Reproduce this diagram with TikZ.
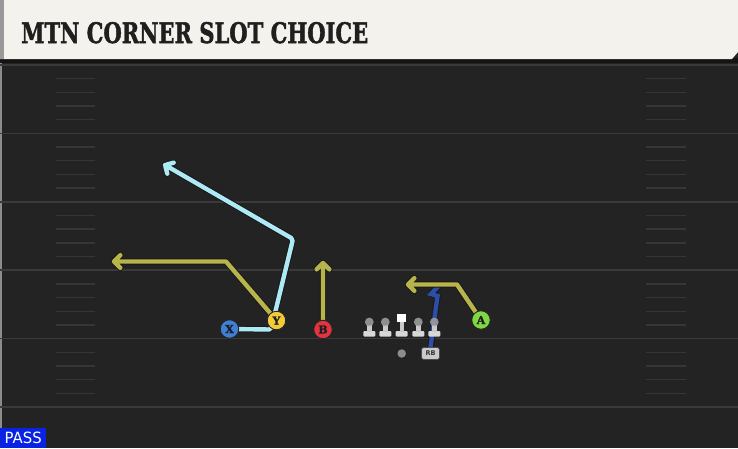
\documentclass[tikz,border=0pt]{standalone}
\usepackage{fontspec}
\setmainfont{DejaVu Sans}
\newfontfamily\slabfont{DejaVu Serif}
\newfontfamily\heavyslab{DejaVu Serif Bold}[FakeBold=1.8]
\usetikzlibrary{calc}
\pgfdeclarelayer{bg}
\pgfdeclarelayer{rt}
\pgfsetlayers{bg,rt,main}
\definecolor{cream}{HTML}{F4F2EC}
\definecolor{fieldbg}{HTML}{232323}
\definecolor{yardline}{HTML}{3A3A3A}
\definecolor{hashc}{HTML}{363636}
\definecolor{lblue}{HTML}{AEEAF6}
\definecolor{olive}{HTML}{B6B44A}
\definecolor{rbblue}{HTML}{2D4EA6}
\definecolor{xblue}{HTML}{3F7FD8}
\definecolor{yyellow}{HTML}{F3CA38}
\definecolor{bred}{HTML}{E1343F}
\definecolor{agreen}{HTML}{7FD843}
\definecolor{passblue}{HTML}{0A22E4}
\definecolor{lmbase}{HTML}{D8D8D8}
\definecolor{lmbody}{HTML}{CACACA}
\definecolor{lmhead}{HTML}{A2A2A2}
\tikzset{
  route/.style={line width=4.4pt, draw=#1, line join=round, line cap=round,
    preaction={draw=black!90, line width=6.4pt, line join=round, line cap=round}},
  player/.style={circle, draw=black!85, line width=0.9pt, minimum size=18.5pt, inner sep=0pt,
    font=\heavyslab\fontsize{11}{11}\selectfont, text=black!88},
  lineman/.pic={
    \fill[lmbase, rounded corners=1pt] (-6,9) rectangle (6,14.5);
    \fill[lmbody] (-2.2,3) rectangle (2.2,10);
    \fill[lmhead, opacity=0.85] (0,0) circle (4.4);
  },
  centerman/.pic={
    \fill[lmbase, rounded corners=1pt] (-6,9) rectangle (6,14.5);
    \fill[lmbody] (-2.2,0) rectangle (2.2,10);
    \fill[white] (-4.3,-8.5) rectangle (4.3,0);
  },
  hash/.style={draw=hashc, line width=1.4pt},
  yard/.style={draw=yardline, line width=1.6pt}
}
\begin{document}
\begin{tikzpicture}[x=1pt,y=-1pt]
\useasboundingbox (0,0) rectangle (738,448);
\begin{pgfonlayer}{bg}
  \fill[fieldbg] (0,0) rectangle (738,448);
  \fill[black!45] (0,58) rectangle (2,448);
  \fill[black!92] (0,58) rectangle (738,63);
  \fill[cream] (0,0) -- (738,0) -- (738,52) -- (732,59) -- (0,59) -- cycle;
  \fill[black!40] (0,0) rectangle (3.5,59);
  \foreach \k in {0,...,5} {
    \draw[yard] (0,65+68.4*\k) -- (738,65+68.4*\k);
  }
  \foreach \k in {0,...,4} {
    \foreach \j in {1,...,4} {
      \draw[hash] (56,65+68.4*\k+13.68*\j) -- (95,65+68.4*\k+13.68*\j);
      \draw[hash] (646,65+68.4*\k+13.68*\j) -- (686,65+68.4*\k+13.68*\j);
    }
  }
\end{pgfonlayer}
\node[anchor=base west, inner sep=0pt, text=black!88] (title) at (21,43)
  {\resizebox{347pt}{21pt}{\heavyslab MTN CORNER SLOT CHOICE}};
\node[anchor=south west, fill=passblue, minimum width=46pt, minimum height=20pt, inner sep=0pt, text=white] (pass) at (0,448)
  {\resizebox{37pt}{11.5pt}{PASS}};
% players
\node[player, fill=xblue] (X) at (229.5,329) {X};
\node[player, fill=yyellow] (Y) at (276.5,320.5) {Y};
\node[player, fill=bred] (B) at (323,329.5) {B};
\node[player, fill=agreen] (A) at (481,320) {A};
% line
\pic at (369.3,322) {lineman};
\pic at (385.3,322) {lineman};
\pic at (401.7,322) {centerman};
\pic at (418.3,322) {lineman};
\pic at (434.3,322) {lineman};
\node[circle, fill=black!45, minimum size=8.5pt, inner sep=0pt] (QB) at (401.7,353.5) {};
\node[rounded corners=2.5pt, fill=lmbody, draw=black!70, line width=0.6pt, minimum width=18pt, minimum height=12pt, inner sep=0pt,
  font=\bfseries\fontsize{6.5}{6.5}\selectfont, text=black!80] (RB) at (430.5,353.5) {RB};
% route points
\coordinate (xc1) at (271,329.5);
\coordinate (xc2) at (293,239);
\coordinate (xtip) at (165,165);
\coordinate (yc1) at (226,261.5);
\coordinate (ytip) at (114,261.5);
\coordinate (btip) at (323,263);
\coordinate (ac1) at (457,284.5);
\coordinate (atip) at (408,284.5);
\coordinate (rb1) at (437.5,296);
\coordinate (rb2) at (431,294);
\coordinate (rbend) at (440,284.5);
\begin{pgfonlayer}{rt}
  \draw[route=rbblue, line cap=butt, line join=miter] (RB.north) -- (rb1) -- (rb2) -- (rbend);
  \draw[route=olive] (Y.center) -- (yc1) -- (ytip)
    ($(ytip)!9pt!45:(yc1)$) -- (ytip) -- ($(ytip)!9pt!-45:(yc1)$);
  \draw[route=lblue, rounded corners=2pt] (X.center) -- (xc1) -- (xc2) -- (xtip)
    ($(xtip)!9pt!45:(xc2)$) -- (xtip) -- ($(xtip)!9pt!-45:(xc2)$);
  \draw[route=olive] (B.center) -- (btip)
    ($(btip)!9pt!45:(B.center)$) -- (btip) -- ($(btip)!9pt!-45:(B.center)$);
  \draw[route=olive] (A.center) -- (ac1) -- (atip)
    ($(atip)!9pt!45:(ac1)$) -- (atip) -- ($(atip)!9pt!-45:(ac1)$);
\end{pgfonlayer}
\end{tikzpicture}
\end{document}
